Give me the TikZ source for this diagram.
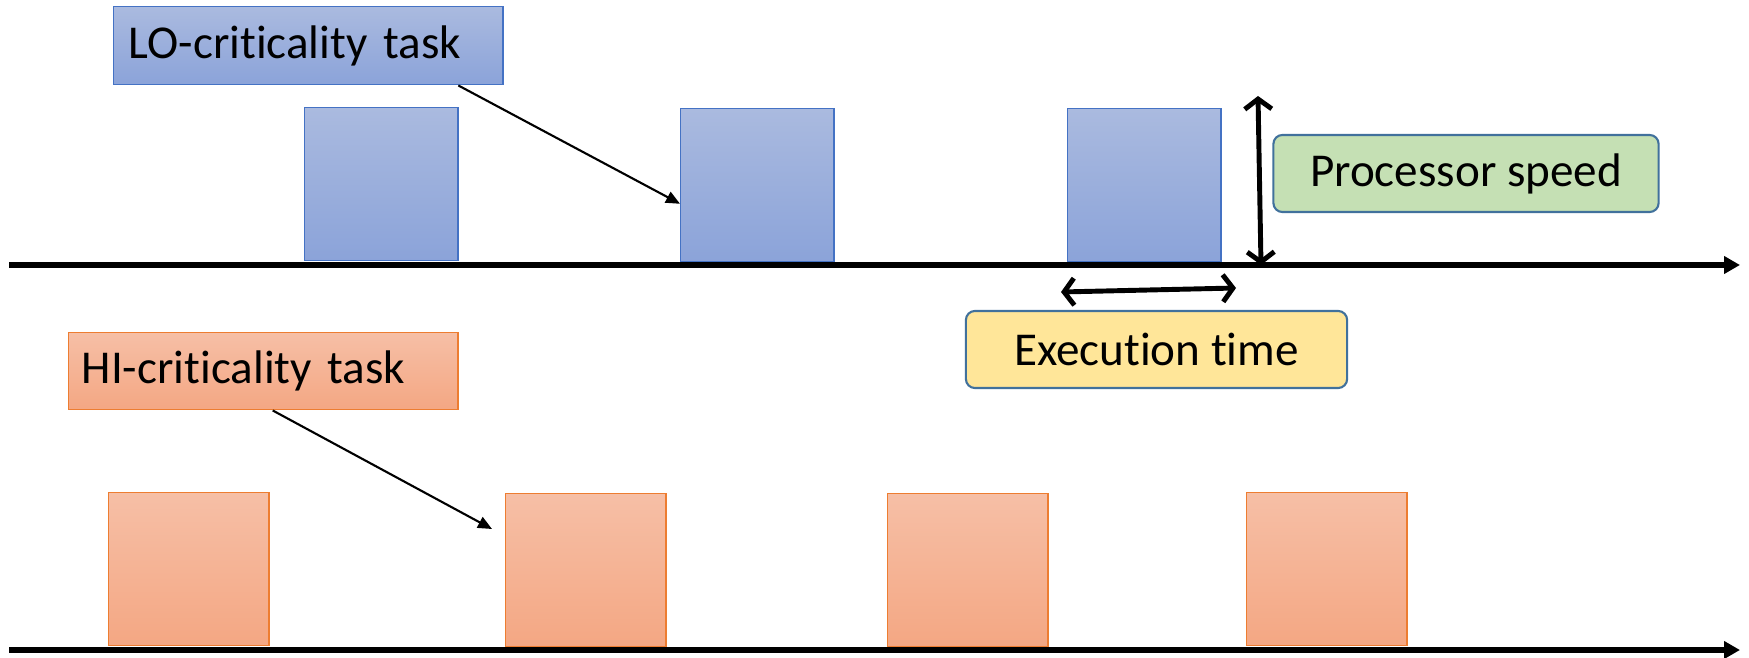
\documentclass[tikz,border=0pt]{standalone}
\usepackage{fontspec}
\setmainfont{Carlito}[Ligatures=NoCommon]
\usetikzlibrary{arrows.meta,calc,positioning}

\definecolor{loborder}{HTML}{4472C4}
\definecolor{lotop}{HTML}{AABADF}
\definecolor{lobot}{HTML}{8BA3D9}
\definecolor{hiborder}{HTML}{ED7D31}
\definecolor{hitop}{HTML}{F6BFA6}
\definecolor{hibot}{HTML}{F4A783}
\definecolor{speedfill}{HTML}{C5E0B4}
\definecolor{execfill}{HTML}{FFE699}
\definecolor{noteborder}{HTML}{41719C}

\begin{document}
\begin{tikzpicture}[x=0.01cm,y=-0.01cm,
    every node/.style={font=\fontsize{13.4}{16}\selectfont},
    lojob/.style={draw=loborder,top color=lotop,bottom color=lobot,inner sep=0,
        minimum width=1.53cm,minimum height=1.53cm,anchor=north west},
    hijob/.style={draw=hiborder,top color=hitop,bottom color=hibot,inner sep=0,
        minimum width=1.6cm,minimum height=1.53cm,anchor=north west},
    lolabel/.style={lojob,text width=3.59cm,inner xsep=0.15cm,align=left,
        minimum height=0.78cm},
    hilabel/.style={hijob,text width=3.63cm,inner xsep=0.13cm,align=left,
        minimum height=0.77cm},
    note/.style={draw=noteborder,line width=0.6pt,rounded corners=0.09cm,
        minimum height=0.77cm,inner sep=0},
    pointer/.style={line width=0.6pt,-{Triangle[length=0.14cm,width=0.12cm]}},
    measure/.style={line width=1.4pt,{Straight Barb[length=0.1cm,width=0.27cm]}-{Straight Barb[length=0.1cm,width=0.27cm]}},
    timeline/.style={line width=1.5pt,-{Triangle[length=0.16cm,width=0.17cm]}}]
    \useasboundingbox (0,0) rectangle (1749,658);

    % time axes
    \coordinate (lo0) at (9,265);
    \coordinate (lo1) at (1740,265);
    \coordinate (hi0) at (9,650);
    \coordinate (hi1) at (1740,650);

    % jobs
    \node[lojob] (lo-a) at (304,107) {};
    \node[lojob] (lo-b) at (680,108) {};
    \node[lojob] (lo-c) at (1067,108) {};
    \node[hijob] (hi-a) at (108,492) {};
    \node[hijob] (hi-b) at (505,493) {};
    \node[hijob] (hi-c) at (887,493) {};
    \node[hijob] (hi-d) at (1246,492) {};

    \draw[timeline] (lo0)--(lo1);
    \draw[timeline] (hi0)--(hi1);

    % labels
    \node[lolabel] (lolab) at (113,6) {LO-criticality task};
    \node[hilabel] (hilab) at (68,332) {HI-criticality task};
    \node[note,fill=speedfill,minimum width=3.85cm] (speed) at (1466,173.5) {Processor speed};
    \node[note,fill=execfill,minimum width=3.81cm] (exec) at (1156.5,349.5) {Execution time};

    \draw[pointer] ($(lolab.south west)!0.884!(lolab.south east)$)--($(lo-b.north west)!0.62!(lo-b.south west)$);
    \coordinate (hitip) at (492,529);
    \draw[pointer] ($(hilab.south west)!0.524!(hilab.south east)$)--(hitip);

    % speed and length of a job
    \coordinate (sp0) at (1258,96);
    \coordinate (sp1) at (1261,265);
    \draw[measure] (sp0)--(sp1);
    \coordinate (ex0) at (1061,292);
    \coordinate (ex1) at (1236,288);
    \draw[measure] (ex0)--(ex1);
\end{tikzpicture}
\end{document}
